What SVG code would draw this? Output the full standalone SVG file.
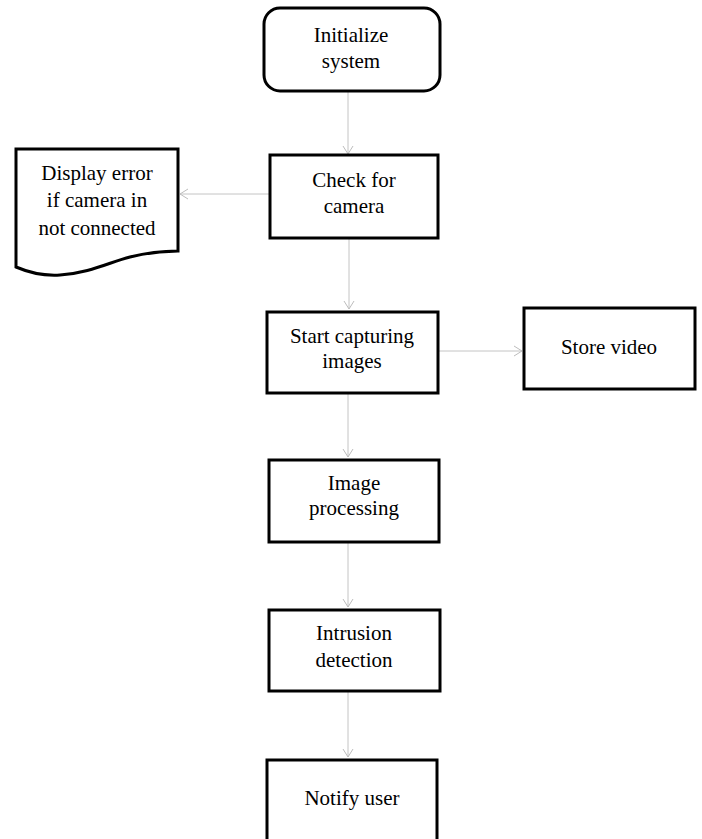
<svg xmlns="http://www.w3.org/2000/svg" width="702" height="839" viewBox="0 0 702 839">
<defs>
<marker id="arr" markerUnits="userSpaceOnUse" markerWidth="12" markerHeight="12" refX="10" refY="6" orient="auto">
<path d="M2,1 L10,6 L2,11" fill="none" stroke="#bdbdbd" stroke-width="1"/>
</marker>
</defs>
<style>
.box{fill:#fff;stroke:#000;stroke-width:3}
.t{font-family:"Liberation Serif","Times New Roman",serif;font-size:21px;fill:#000;text-anchor:middle}
.c{fill:none;stroke:#c4c4c4;stroke-width:1;marker-end:url(#arr)}
</style>
<rect width="702" height="839" fill="#fff"/>
<g id="connectors">
<line class="c" x1="348" y1="92" x2="348" y2="154"/>
<line class="c" x1="269" y1="194" x2="180" y2="194"/>
<line class="c" x1="349" y1="239" x2="349" y2="309"/>
<line class="c" x1="438" y1="351" x2="522" y2="351"/>
<line class="c" x1="348" y1="394" x2="348" y2="457"/>
<line class="c" x1="348" y1="543" x2="348" y2="607"/>
<line class="c" x1="348" y1="692" x2="348" y2="757"/>
</g>
<g id="initialize">
<rect class="box" x="264" y="8" width="176" height="83" rx="16"/>
<text class="t" x="351" y="42">Initialize</text>
<text class="t" x="351" y="68">system</text>
</g>
<g id="check">
<rect class="box" x="270" y="155" width="168" height="83"/>
<text class="t" x="354" y="187">Check for</text>
<text class="t" x="354" y="213">camera</text>
</g>
<g id="display-error">
<path class="box" d="M16,149 L178,149 L178,251 C165,251 150,252 130,257 C110,262 90,273 60,275 C45,276 30,273 16,267 Z"/>
<text class="t" x="97" y="180">Display error</text>
<text class="t" x="97" y="207">if camera in</text>
<text class="t" x="97" y="235">not connected</text>
</g>
<g id="start">
<rect class="box" x="267" y="312" width="171" height="81"/>
<text class="t" x="352" y="343">Start capturing</text>
<text class="t" x="352" y="368">images</text>
</g>
<g id="store">
<rect class="box" x="524" y="308" width="171" height="81"/>
<text class="t" x="609" y="354">Store video</text>
</g>
<g id="image">
<rect class="box" x="269" y="460" width="170" height="82"/>
<text class="t" x="354" y="490">Image</text>
<text class="t" x="354" y="515">processing</text>
</g>
<g id="intrusion">
<rect class="box" x="269" y="610" width="171" height="81"/>
<text class="t" x="354" y="640">Intrusion</text>
<text class="t" x="354" y="667">detection</text>
</g>
<g id="notify">
<rect class="box" x="267" y="760" width="170" height="95"/>
<text class="t" x="352" y="805">Notify user</text>
</g>
</svg>
